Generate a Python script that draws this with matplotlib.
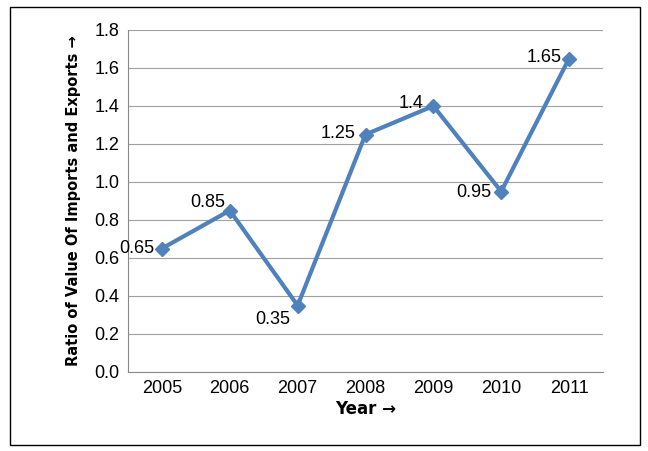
import matplotlib.pyplot as plt
from matplotlib.patches import Rectangle

years = ["2005", "2006", "2007", "2008", "2009", "2010", "2011"]
ratios = [0.65, 0.85, 0.35, 1.25, 1.4, 0.95, 1.65]
labels = ["0.65", "0.85", "0.35", "1.25", "1.4", "0.95", "1.65"]
# label offsets (points) relative to each point
offsets = [(-18, 0), (-16, 6), (-18, -10), (-20, 1), (-16, 2), (-20, -1), (-18, 1)]

plt.rcParams["font.family"] = ["Liberation Sans", "DejaVu Sans"]

fig = plt.figure(figsize=(6.48, 4.51), dpi=100)
fig.patches.append(Rectangle((10 / 648, 6 / 451), 630 / 648, 438 / 451,
                             transform=fig.transFigure, fill=False,
                             edgecolor="black", linewidth=1))
ax = fig.add_axes([128 / 648, 1 - 372 / 451, 475 / 648, 342 / 451])

x = range(len(years))
ax.plot(x, ratios, color="#4F81BD", linewidth=3, marker="D", markersize=7)
for xi, yi, lab, off in zip(x, ratios, labels, offsets):
    ax.annotate(lab, (xi, yi), xytext=off, textcoords="offset points",
                ha="center", va="center", fontsize=13)

ax.set_xlim(-0.5, len(years) - 0.5)
ax.set_ylim(0, 1.8)
ax.set_yticks([i / 5 for i in range(10)])
ax.set_yticklabels([f"{i / 5:.1f}" for i in range(10)])
ax.set_xticks(list(x))
ax.set_xticklabels(years)
ax.tick_params(labelsize=13, length=0, pad=6)
ax.grid(axis="y", color="#A0A0A0", linewidth=0.8)
ax.set_axisbelow(True)
for s in ["top", "right"]:
    ax.spines[s].set_visible(False)
for s in ["left", "bottom"]:
    ax.spines[s].set_color("#888888")

ax.set_xlabel("Year \u2192", fontsize=12, fontweight="bold", labelpad=2,
              family=["DejaVu Sans"])
ax.set_ylabel("Ratio of Value Of Imports and Exports \u2192", fontsize=10.5,
              fontweight="bold", labelpad=10, family=["DejaVu Sans"])

fig.savefig("out.png", dpi=100)
